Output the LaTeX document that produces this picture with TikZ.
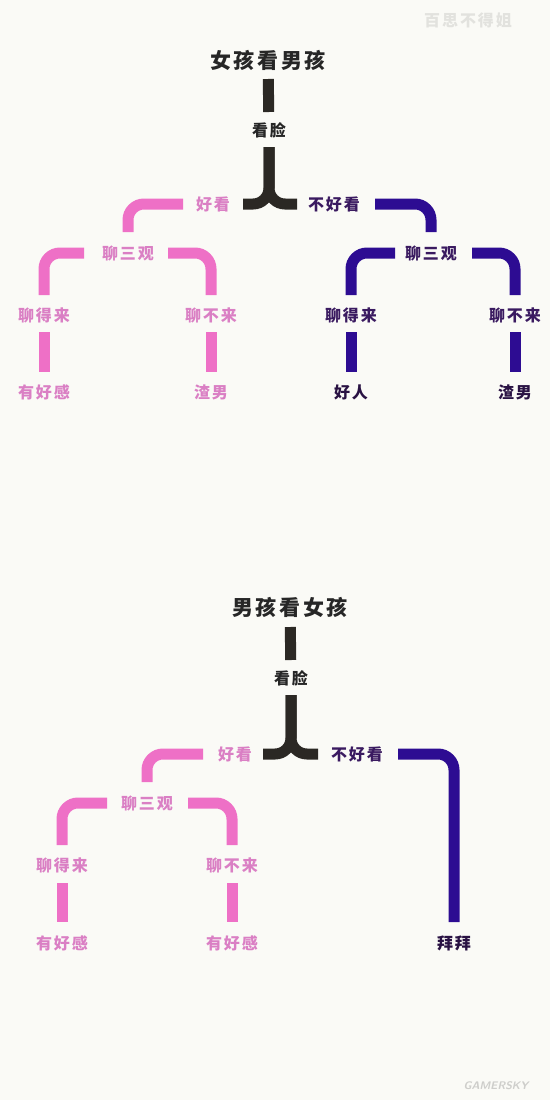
\documentclass[tikz,border=0pt]{standalone}
\usepackage{fontspec}
\usepackage{xcolor}
\usetikzlibrary{positioning}
\newfontfamily\cjk[LetterSpace=12]{Noto Sans CJK SC}

\definecolor{paperbg}{HTML}{FAFAF6}
\definecolor{barblack}{HTML}{2B2824}
\definecolor{barpink}{HTML}{EE70C6}
\definecolor{txtpink}{HTML}{DA7FC4}
\definecolor{barpurple}{HTML}{2D0C92}
\definecolor{txtpurple}{HTML}{3A1A60}
\definecolor{wmgray}{HTML}{E2E2DE}

\begin{document}
\begin{tikzpicture}[
        x=1pt, y=-1pt, % one unit = one pixel of the layout
        % Style for the text labels
        lbl/.style={
            inner sep=0pt,
            font=\cjk\bfseries\fontsize{16}{16}\selectfont
        },
        ttl/.style={
            inner sep=0pt,
            font=\cjk\bfseries\fontsize{21}{21}\selectfont,
            text=black!85
        },
        pinklbl/.style={lbl, text=txtpink},
        purplelbl/.style={lbl, text=txtpurple},
        blacklbl/.style={lbl, text=black!85},
        % Style for the thick bars
        bar/.style={line width=11pt, line cap=butt, rounded corners=16pt},
        blackbar/.style={bar, draw=barblack},
        pinkbar/.style={bar, draw=barpink},
        purplebar/.style={bar, draw=barpurple}
    ]

    \fill[paperbg] (0,0) rectangle (550,1100);
    \useasboundingbox (0,0) rectangle (550,1100);

    % ==========================================
    % GIRL LOOKS AT BOY
    % ==========================================

    \node[ttl] (titleA) at (268,60) {女孩看男孩};
    \node[blacklbl] (faceA) at (269,130) {看脸};
    \node[pinklbl] (goodA) at (213,204) {好看};
    \node[purplelbl] (badA) at (334,204) {不好看};

    % Pink side
    \node[pinklbl] (talkA) at (128,253) {聊三观};
    \node[pinklbl] (okA) at (44,315) {聊得来};
    \node[pinklbl] (noA) at (211,315) {聊不来};
    \node[pinklbl] (resA1) at (44,392) {有好感};
    \node[pinklbl] (resA2) at (211,392) {渣男};

    % Purple side
    \node[purplelbl] (talkB) at (431,253) {聊三观};
    \node[purplelbl] (okB) at (351,315) {聊得来};
    \node[purplelbl] (noB) at (515,315) {聊不来};
    \node[blacklbl, text=txtpurple!70!black] (resB1) at (351,392) {好人};
    \node[blacklbl, text=txtpurple!70!black] (resB2) at (515,392) {渣男};

    % Black stem and split
    \draw[blackbar, shorten <=19pt, shorten >=18pt] (titleA.center) -- (faceA.center);
    \draw[blackbar, shorten <=17pt, shorten >=30pt] (faceA.center) |- (goodA.center);
    \draw[blackbar, shorten <=17pt, shorten >=37pt] (faceA.center) |- (badA.center);

    % Branches
    \draw[pinkbar, shorten <=30pt, shorten >=21pt] (goodA.center) -| (talkA.center);
    \draw[purplebar, shorten <=41pt, shorten >=21pt] (badA.center) -| (talkB.center);
    \draw[pinkbar, shorten <=44pt, shorten >=20pt] (talkA.center) -| (okA.center);
    \draw[pinkbar, shorten <=40pt, shorten >=20pt] (talkA.center) -| (noA.center);
    \draw[purplebar, shorten <=36pt, shorten >=20pt] (talkB.center) -| (okB.center);
    \draw[purplebar, shorten <=41pt, shorten >=20pt] (talkB.center) -| (noB.center);

    % Short bars to the results
    \foreach \a/\b in {okA/resA1, noA/resA2}
        \draw[pinkbar, shorten <=17pt, shorten >=20pt] (\a.center) -- (\b.center);
    \foreach \a/\b in {okB/resB1, noB/resB2}
        \draw[purplebar, shorten <=17pt, shorten >=20pt] (\a.center) -- (\b.center);

    % ==========================================
    % BOY LOOKS AT GIRL
    % ==========================================

    \node[ttl] (titleC) at (290,607) {男孩看女孩};
    \node[blacklbl] (faceC) at (291,678) {看脸};
    \node[pinklbl] (goodC) at (235,754) {好看};
    \node[purplelbl] (badC) at (357,754) {不好看};

    \node[pinklbl] (talkC) at (147,803) {聊三观};
    \node[pinklbl] (okC) at (62,865) {聊得来};
    \node[pinklbl] (noC) at (232,865) {聊不来};
    \node[pinklbl] (resC1) at (62,943) {有好感};
    \node[pinklbl] (resC2) at (232,943) {有好感};
    \node[blacklbl, text=txtpurple!70!black] (bye) at (454,943) {拜拜};

    \draw[blackbar, shorten <=20pt, shorten >=18pt] (titleC.center) -- (faceC.center);
    \draw[blackbar, shorten <=17pt, shorten >=28pt] (faceC.center) |- (goodC.center);
    \draw[blackbar, shorten <=17pt, shorten >=39pt] (faceC.center) |- (badC.center);

    \draw[pinkbar, shorten <=32pt, shorten >=21pt] (goodC.center) -| (talkC.center);
    \draw[purplebar, shorten <=41pt, shorten >=21pt] (badC.center) -| (bye.center);
    \draw[pinkbar, shorten <=40pt, shorten >=20pt] (talkC.center) -| (okC.center);
    \draw[pinkbar, shorten <=41pt, shorten >=20pt] (talkC.center) -| (noC.center);

    \foreach \a/\b in {okC/resC1, noC/resC2}
        \draw[pinkbar, shorten <=18pt, shorten >=21pt] (\a.center) -- (\b.center);

    % Watermarks
    \node[inner sep=0pt, text=wmgray, font=\cjk\bfseries\fontsize{16}{16}\selectfont] (wmtop) at (468,20) {百思不得姐};
    \node[inner sep=0pt, text=wmgray!80!gray, font=\sffamily\bfseries\itshape\fontsize{11}{11}\selectfont] (wmbot) at (496,1086) {GAMERSKY};

\end{tikzpicture}
\end{document}
